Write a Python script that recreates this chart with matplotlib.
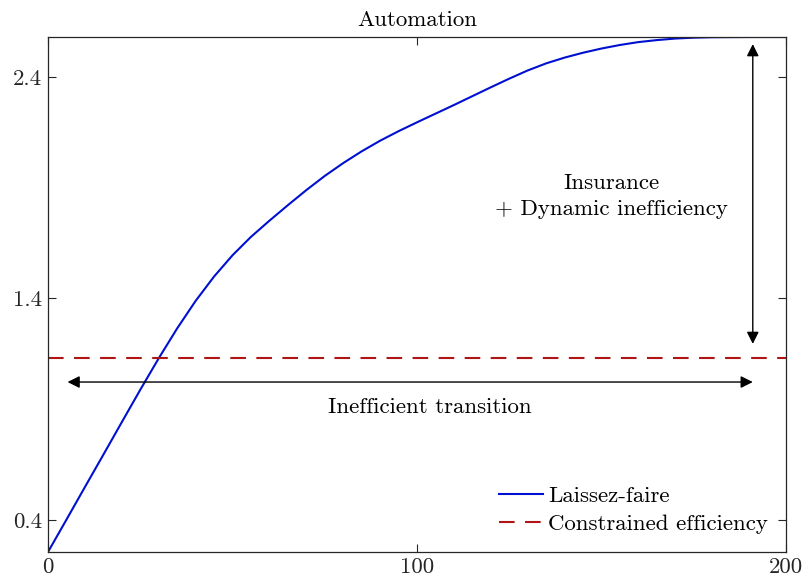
import matplotlib
matplotlib.use("Agg")
import matplotlib.pyplot as plt
import numpy as np

plt.rcParams['font.family'] = ['cmr10', 'DejaVu Serif']
plt.rcParams['mathtext.fontset'] = 'cm'
plt.rcParams['axes.formatter.use_mathtext'] = True

# Data
t = [0, 5, 10, 15, 20, 25, 30, 35, 40, 45, 50, 55, 60, 65, 70, 75, 80, 85,
     90, 95, 100, 105, 110, 115, 120, 125, 130, 135, 140, 145, 150, 155, 160,
     165, 170, 175, 180, 190, 200]
laissez_faire = [0.256, 0.402, 0.549, 0.695, 0.842, 0.988, 1.130, 1.265, 1.389,
                 1.499, 1.595, 1.678, 1.751, 1.821, 1.889, 1.953, 2.011, 2.064,
                 2.112, 2.155, 2.195, 2.234, 2.273, 2.313, 2.353, 2.392, 2.429,
                 2.461, 2.487, 2.509, 2.528, 2.544, 2.557,
                 2.566, 2.573, 2.577, 2.579, 2.58, 2.58]
constrained = 1.131

xticks = [0, 100, 200]
yticks = [0.4, 1.4, 2.4]
xlim = (0, 200)
ylim = (0.256, 2.58)

title = "Automation"
legend_labels = ["Laissez-faire", "Constrained efficiency"]
text_transition = "Inefficient transition"
text_insurance = "Insurance\n+ Dynamic inefficiency"

FS = 16.5
fig = plt.figure(figsize=(8.03, 5.86), dpi=100)
ax = fig.add_axes([48/803, 1-552/586, (786-48)/803, (552-37)/586])

ax.plot(t, laissez_faire, color='#0010D0', lw=1.5, label=legend_labels[0],
        solid_joinstyle='round')
ax.plot(xlim, [constrained, constrained], color='#B01515', lw=1.5,
        dashes=(7.5, 5), label=legend_labels[1])

ax.set_xlim(*xlim)
ax.set_ylim(*ylim)
ax.set_xticks(xticks)
ax.set_xticklabels([str(v) for v in xticks])
ax.set_yticks(yticks)
ax.set_yticklabels([f"{v:.1f}" for v in yticks])
ax.tick_params(direction='in', length=6, width=0.8, colors='#262626',
               labelsize=FS, top=True, right=True, pad=4)
for s in ax.spines.values():
    s.set_color('#262626')
    s.set_linewidth(0.9)
ax.set_title(title, fontsize=FS, pad=8)

# Arrows
arrow = dict(arrowstyle='<|-|>', color='black', lw=1.0,
             mutation_scale=18, shrinkA=0, shrinkB=0)
ax.annotate('', xy=(5.3, 1.023), xytext=(191, 1.023), arrowprops=arrow)
ax.annotate('', xy=(191, 2.548), xytext=(191, 1.195), arrowprops=arrow)

ax.text(103.5, 0.91, text_transition, fontsize=FS, ha='center', va='center')
ax.text(152.6, 1.862, text_insurance, fontsize=FS, ha='center', va='center',
        multialignment='center', linespacing=1.45)

leg = ax.legend(loc='lower right', frameon=False, fontsize=FS,
                handlelength=1.95, handletextpad=0.2, labelspacing=0.33,
                borderaxespad=0.4)

fig.savefig("out.png", dpi=100)
